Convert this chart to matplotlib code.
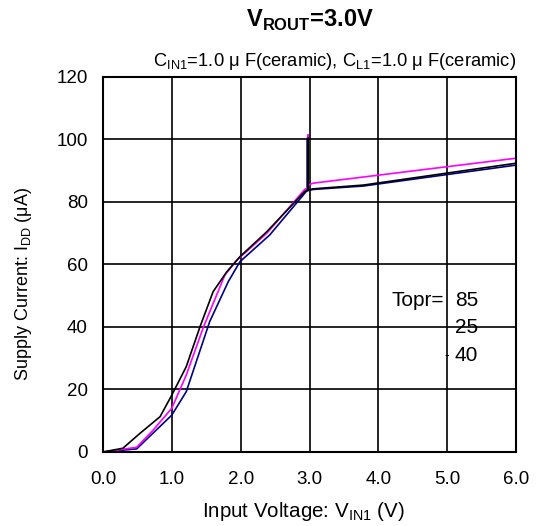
import matplotlib.pyplot as plt

plt.rcParams['font.family'] = ['Liberation Sans', 'DejaVu Sans']

# Topr = 85 (magenta)
x_85 = [0.0, 0.49, 0.73, 1.0, 1.21, 1.46, 1.77, 1.94, 2.38, 2.93, 2.98, 2.98, 2.98, 3.05, 6.0]
y_85 = [0.0, 1.5, 7.0, 14.0, 24.6, 40.0, 56.6, 61.3, 70.0, 84.0, 84.5, 101.4, 85.4, 86.0, 94.0]

# Topr = 25 (black)
x_25 = [0.0, 0.29, 0.54, 0.83, 1.0, 1.21, 1.41, 1.60, 1.80, 1.99, 2.38, 2.93, 2.98, 2.98, 2.98, 3.05, 3.78, 6.0]
y_25 = [0.0, 1.2, 6.0, 11.3, 18.2, 27.3, 40.1, 51.3, 57.7, 62.5, 70.5, 83.3, 84.0, 100.4, 83.8, 84.2, 85.4, 92.4]

# Topr = -40 (navy)
x_m40 = [0.0, 0.49, 1.0, 1.21, 1.55, 1.82, 1.99, 2.42, 2.95, 2.97, 2.97, 2.97, 3.05, 3.78, 6.0]
y_m40 = [0.0, 1.0, 11.8, 19.3, 41.7, 54.5, 60.9, 69.4, 83.3, 83.8, 100.4, 83.6, 84.0, 85.1, 91.8]

x_ticks = [0, 1, 2, 3, 4, 5, 6]
x_labels = ['0.0', '1.0', '2.0', '3.0', '4.0', '5.0', '6.0']
y_ticks = [0, 20, 40, 60, 80, 100, 120]

fig = plt.figure(figsize=(5.36, 5.26), dpi=100)
ax = fig.add_axes([0.192, 0.1407, 0.771, 0.713])

ax.plot(x_m40, y_m40, color='#000080', linewidth=1.2)
ax.plot(x_85, y_85, color='#ff00ff', linewidth=1.2)
ax.plot(x_25, y_25, color='black', linewidth=1.2)

ax.set_xlim(0, 6)
ax.set_ylim(0, 120)
ax.set_xticks(x_ticks)
ax.set_xticklabels(x_labels)
ax.set_yticks(y_ticks)
ax.tick_params(length=0, labelsize=13.5)
ax.tick_params(axis='x', pad=14)
ax.tick_params(axis='y', pad=11)
ax.grid(True, color='black', linewidth=1.2)
for s in ax.spines.values():
    s.set_linewidth(1.5)

ax.set_xlabel('Input Voltage: V$_{\\mathregular{IN1}}$ (V)', fontsize=14.8, va='center')
ax.xaxis.set_label_coords(0.484, -0.16)
fig.text(24 / 536, 1 - 284 / 526, 'Supply Current: I$_{\\mathregular{DD}}$ (μA)',
         rotation=90, ha='center', va='center', fontsize=13)

ax.set_title('V$_{\\mathregular{ROUT}}$=3.0V', fontsize=17, fontweight='bold', pad=0,
             y=1.0 + 57 / 375, va='center')
ax.text(6.0, 121.5, 'C$_{\\mathregular{IN1}}$=1.0 μ F(ceramic), C$_{\\mathregular{L1}}$=1.0 μ F(ceramic)',
        ha='right', va='bottom', fontsize=13.2)

# legend text
ax.text(4.19, 48.6, 'Topr=', ha='left', va='center', fontsize=15)
ax.text(5.11, 48.6, '85', ha='left', va='center', fontsize=15)
ax.text(5.11, 39.7, '25', ha='left', va='center', fontsize=15)
ax.text(4.96, 31.0, '-', ha='left', va='center', fontsize=10)
ax.text(5.11, 31.0, '40', ha='left', va='center', fontsize=15)

fig.savefig('out.png', dpi=100)
